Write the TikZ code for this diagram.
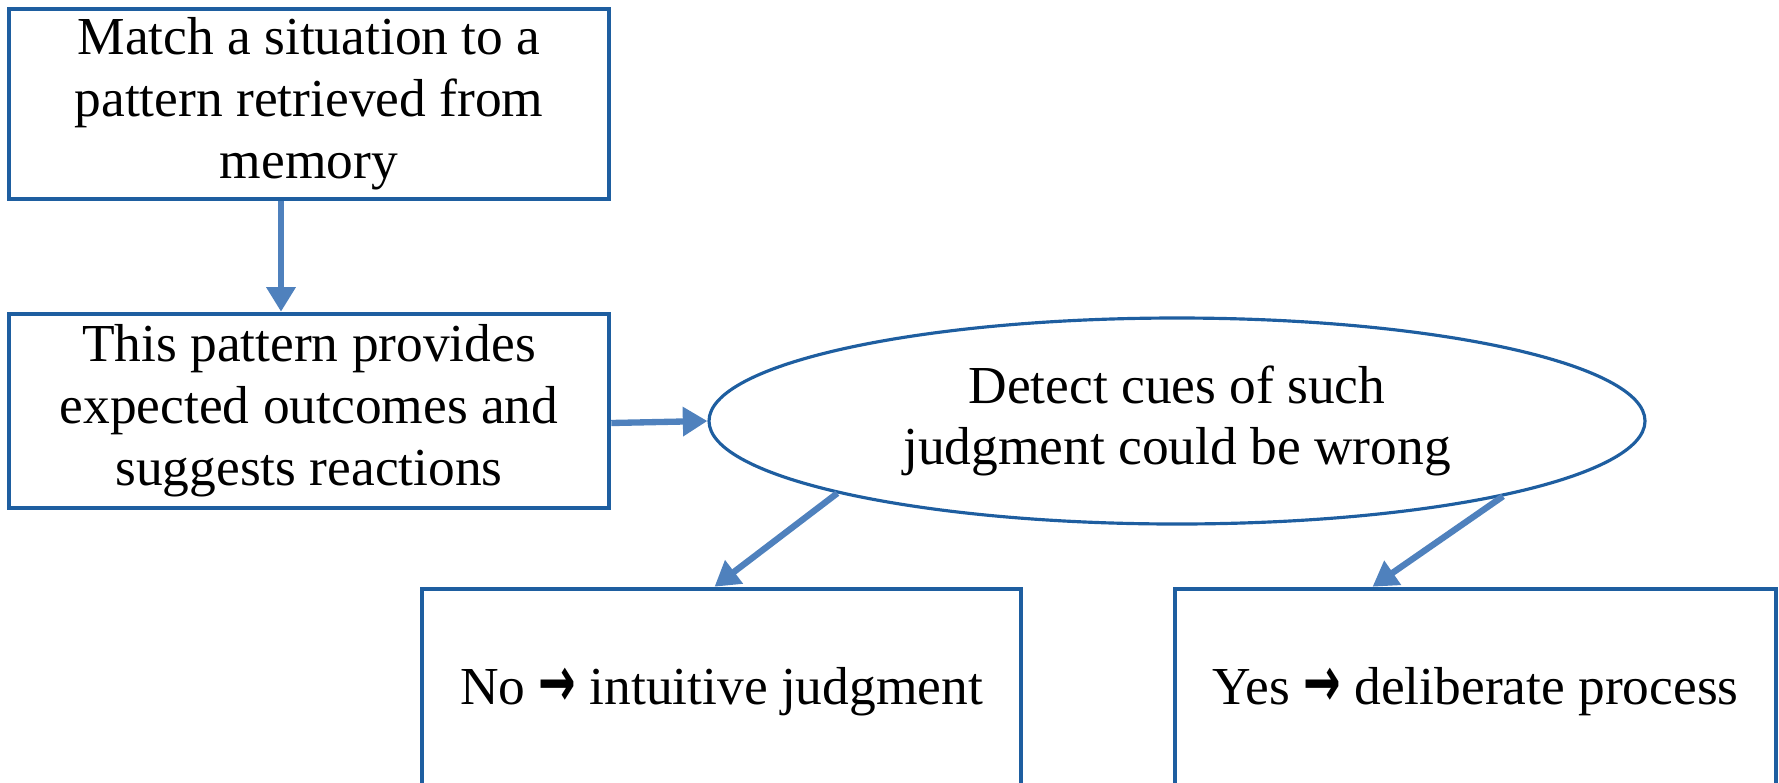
\documentclass[tikz,border=0pt]{standalone}
\usepackage{fontspec}
\setmainfont{Liberation Serif}
\newfontfamily\arrowfont{DejaVu Sans}
\usepackage{tikz}
\usetikzlibrary{shapes,arrows.meta}
\definecolor{boxblue}{RGB}{30,94,160}
\definecolor{arrowblue}{RGB}{79,129,189}
\tikzstyle{block} = [rectangle, draw=boxblue, line width=1.3pt, fill=white, align=center, minimum width=6cm, inner sep=2pt, font=\fontsize{15.2}{17.6}\selectfont]
\tikzstyle{cue} = [ellipse, draw=boxblue, line width=0.9pt, fill=white, align=center, minimum width=9.36cm, minimum height=2.06cm, inner sep=0pt, font=\fontsize{15.2}{17.6}\selectfont]
\tikzstyle{arr} = [draw=arrowblue, line width=1.8pt, -{Triangle[length=7pt,width=8pt]}]
\newcommand{\bigarrow}{{\arrowfont\bfseries\fontsize{15}{17}\selectfont\raisebox{-0.5pt}{\scalebox{0.85}[1.35]{→}}}}

\begin{document}
\begin{tikzpicture}
\useasboundingbox (0,0) rectangle (17.79,-7.82);
    \clip (0,0) rectangle (17.79,-7.82);

    \node[block, minimum height=1.9cm] (match) at (3.09,-1.04) {Match a situation to a\\pattern retrieved from\\memory};
    \node[block, minimum height=1.94cm] (pattern) at (3.09,-4.11) {This pattern provides\\expected outcomes and\\suggests reactions};
    \node[cue] (detect) at (11.77,-4.21) {Detect cues of such\\judgment could be wrong};

    \node[block, minimum width=5.99cm, minimum height=2.06cm] (no) at (7.215,-6.92) {No \bigarrow{} intuitive judgment};
    \node[block, minimum width=6.01cm, minimum height=2.06cm] (yes) at (14.755,-6.92) {Yes \bigarrow{} deliberate process};

    \draw[arr] ([xshift=-0.28cm]match.south) -- ([xshift=-0.28cm]pattern.north);
    \draw[arr] ([yshift=-0.12cm]pattern.east) -- (detect.west);
    \draw[arr] (detect.192) -- ([xshift=-0.07cm]no.north);
    \draw[arr] (detect.347) -- ([xshift=-1.03cm]yes.north);
\end{tikzpicture}
\end{document}
